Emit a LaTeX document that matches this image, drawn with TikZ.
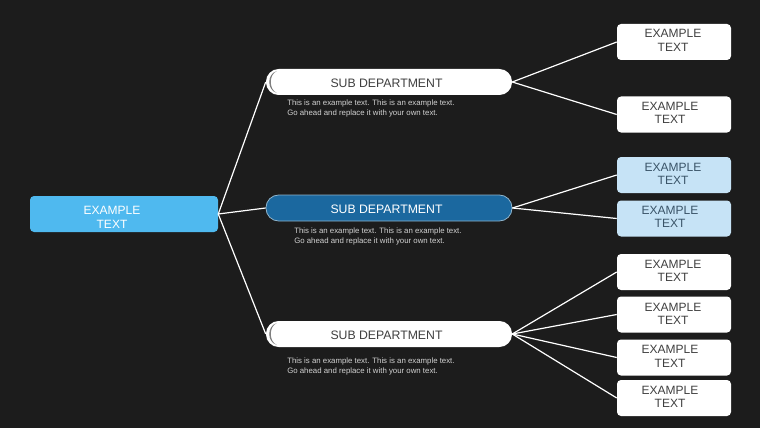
\documentclass[tikz,border=0pt]{standalone}
\usepackage{fontspec}
\setmainfont{Liberation Sans}
\definecolor{bgdark}{HTML}{1C1C1C}
\definecolor{rootblue}{HTML}{4FB9EF}
\definecolor{subblue}{HTML}{1B689F}
\definecolor{subedge}{HTML}{8FB4CC}
\definecolor{leafblue}{HTML}{C6E3F6}
\definecolor{inktext}{HTML}{404040}
\definecolor{inkblue}{HTML}{3A5468}
\definecolor{notetext}{HTML}{D2D2D2}
\begin{document}
\begin{tikzpicture}[x=0.75pt, y=-0.75pt,
    boxtext/.style = {font=\fontsize{9}{10.2}\selectfont, align=center, inner sep=0pt},
    rootbox/.style = {rectangle, rounded corners=3pt, fill=rootblue, minimum width=141pt, minimum height=27pt, inner sep=0pt},
    subbox/.style = {rectangle, rounded corners=9.5pt, fill=white, minimum width=184.5pt, minimum height=19.5pt, inner sep=0pt},
    leafbox/.style = {rectangle, rounded corners=3pt, fill=white, minimum width=85.5pt, minimum height=27pt, inner sep=0pt},
    notetxt/.style = {font=\fontsize{5.87}{7.5}\selectfont, text=notetext, align=left, inner sep=0pt, anchor=west},
    link/.style = {draw=white, line width=0.9pt}]
  \fill[bgdark] (0,0) rectangle (760,428);
  \useasboundingbox (0,0) rectangle (760,428);

  \node[rootbox] (root) at (124,214) {};
  \node[boxtext, text=white] (roottext) at (112,217.5) {EXAMPLE\\TEXT};

  \node[subbox] (sub1) at (389,82) {};
  \node[subbox, fill=subblue, draw=subedge, line width=0.6pt] (sub2) at (389,208) {};
  \node[subbox] (sub3) at (389,334) {};
  \foreach \s/\y/\c in {1/83/inktext, 2/209/white, 3/335/inktext}
  \node[boxtext, text=\c, font=\fontsize{9.2}{10.2}\selectfont] (subtext\s) at (386.5,\y) {SUB DEPARTMENT};

  % crescents on the left of the white bars
  \foreach \s in {1,3}
  \fill[gray] ([shift={(11,-11)}]sub\s.west) .. controls ([shift={(1,-8)}]sub\s.west) and ([shift={(1,8)}]sub\s.west) .. ([shift={(11,11)}]sub\s.west)
    .. controls ([shift={(3,7)}]sub\s.west) and ([shift={(3,-7)}]sub\s.west) .. cycle;

  \node[notetxt] (note1) at (287,108.5) {This is an example text. This is an example text.\\Go ahead and replace it with your own text.};
  \node[notetxt] (note2) at (294,236.5) {This is an example text. This is an example text.\\Go ahead and replace it with your own text.};
  \node[notetxt] (note3) at (287,366) {This is an example text. This is an example text.\\Go ahead and replace it with your own text.};

  \foreach \i/\y/\tx/\ty in {1/42/673/40.5, 2/114.5/670/113, 5/272/673/271, 6/314.5/673/314, 7/357.5/670/356.5, 8/398/670/397}{
    \node[leafbox] (leaf\i) at (674,\y) {};
    \node[boxtext, text=inktext] (label\i) at (\tx,\ty) {EXAMPLE\\TEXT};
  }
  \foreach \i/\y/\tx/\ty in {3/175/673/174, 4/218.5/670/217}{
    \node[leafbox, fill=leafblue] (leaf\i) at (674,\y) {};
    \node[boxtext, text=inkblue] (label\i) at (\tx,\ty) {EXAMPLE\\TEXT};
  }

  \foreach \s in {1,2,3}
  \draw[link] (root.east) -- (sub\s.west);

  \foreach \i in {1,2}
  \draw[link] (sub1.east) -- (leaf\i.west);
  \foreach \i in {3,4}
  \draw[link] (sub2.east) -- (leaf\i.west);
  \foreach \i in {5,6,7,8}
  \draw[link] (sub3.east) -- (leaf\i.west);
\end{tikzpicture}
\end{document}
